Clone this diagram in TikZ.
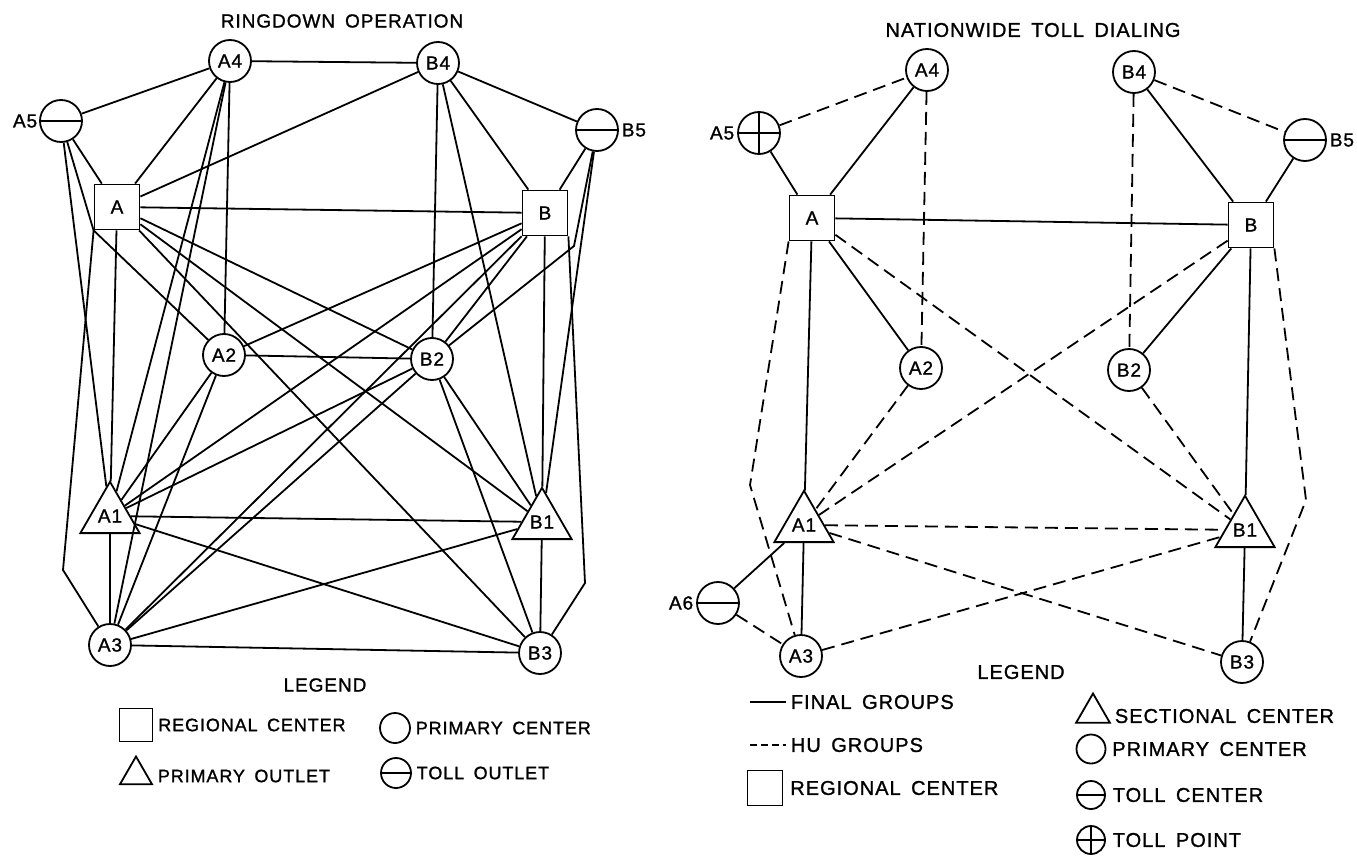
\documentclass[tikz,border=0pt]{standalone}
\usepackage{fontspec}
\setmainfont{Liberation Sans}[LetterSpace=5,WordSpace=1.6,FakeBold=1.2]
\usetikzlibrary{positioning}
\usetikzlibrary{shapes}

\begin{document}
\begin{tikzpicture}[x=1pt,y=-1pt,line width=1.8pt,font=\fontsize{19}{21}\selectfont,
  primary node/.style={circle,draw,inner sep=0pt,minimum size=42pt},
  regional node/.style={rectangle,draw,inner sep=0pt,minimum size=45pt},
  outlet node/.style={regular polygon,regular polygon sides=3,draw,inner sep=0pt,minimum size=54pt},
  toll node/.style={primary node,path picture={\draw (path picture bounding box.west) -- (path picture bounding box.east);}},
  point node/.style={primary node,path picture={\draw (path picture bounding box.west) -- (path picture bounding box.east) (path picture bounding box.north) -- (path picture bounding box.south);}},
  hu line/.style={dash pattern=on 13pt off 7pt},
  legend text/.style={anchor=west,inner sep=1pt}]
  \useasboundingbox (0,0) rectangle (1357,856);

  \node (ttl) at (342,21) {RINGDOWN OPERATION};
  \node[primary node] (a4) at (230,61) {A4};
  \node[primary node] (b4) at (438,63) {B4};
  \node[toll node,label={[inner sep=1pt]left:A5}] (a5) at (61,121) {};
  \node[toll node,label={[inner sep=2pt]right:B5}] (b5) at (597,130) {};
  \node[regional node] (a) at (117,207) {A};
  \node[regional node] (b) at (545,213) {B};
  \node[primary node] (a2) at (224,355) {A2};
  \node[primary node] (b2) at (432,359) {B2};
  \node[outlet node] (a1) at (110,516) {A1};
  \node[outlet node] (b1) at (542,522) {B1};
  \node[primary node] (a3) at (110,645) {A3};
  \node[primary node] (b3) at (540,653) {B3};
  \coordinate (ka3) at (63,570);
  \coordinate (kb5) at (574,246);
  \coordinate (kb3) at (585,583);

  \path (a4) edge (b4) edge (a5) edge (a) edge (a2) edge (a1) edge (a3)
        (b4) edge (a) edge (b2) edge (b1) edge (b) edge (b5)
        (a5) edge (a) edge (a1)
        (b5) edge (b) edge (b1)
        (a) edge (b) edge (a1) edge (b2) edge (b1) edge (b3)
        (b) edge (a2) edge (a1) edge (a3) edge (b2) edge (b1)
        (a2) edge (b2) edge (a1) edge (a3)
        (b2) edge (a1) edge (a3) edge (b1) edge (b3)
        (a1) edge (b1) edge (b3) edge (a3)
        (a3) edge (b1) edge (b3)
        (b1) edge (b3);
  \draw (a5) -- (a.south west) -- (a2);
  \draw (a.south west) -- (ka3) -- (a3);
  \draw (b5) -- (kb5) -- (b2);
  \draw (b.south east) -- (kb3) -- (b3);

  \node (lgl) at (325,685) {LEGEND};
  \begin{scope}[font=\fontsize{18}{20}\selectfont]
    \node[regional node,minimum size=33pt] (lsq) at (136,725) {};
    \node[legend text,right=3pt of lsq] (lsqt) {REGIONAL CENTER};
    \node[primary node,minimum size=30pt] (lci) at (395,728) {};
    \node[legend text,right=3pt of lci] (lcit) {PRIMARY CENTER};
    \node[outlet node,minimum size=37pt] (ltr) at (136,775) {};
    \node[legend text] (ltrt) at (156,776) {PRIMARY OUTLET};
    \node[toll node,minimum size=30pt] (lto) at (396,773) {};
    \node[legend text,right=3pt of lto] (ltot) {TOLL OUTLET};
  \end{scope}

  \node (ttr) at (1033,30) {\fontsize{20}{22}\selectfont NATIONWIDE TOLL DIALING};
  \node[primary node] (ra4) at (927,70) {A4};
  \node[primary node] (rb4) at (1134,72) {B4};
  \node[point node,label={[inner sep=2pt]left:A5}] (ra5) at (759,133) {};
  \node[toll node,label={[inner sep=2pt]right:B5}] (rb5) at (1305,140) {};
  \node[regional node] (ra) at (812,218) {A};
  \node[regional node] (rb) at (1251,225) {B};
  \node[primary node] (ra2) at (921,368) {A2};
  \node[primary node] (rb2) at (1129,370) {B2};
  \node[outlet node] (ra1) at (804,525) {A1};
  \node[outlet node] (rb1) at (1245,530) {B1};
  \node[toll node,label={[inner sep=2pt]left:A6}] (ra6) at (718,603) {};
  \node[primary node] (ra3) at (801,656) {A3};
  \node[primary node] (rb3) at (1242,662) {B3};
  \coordinate (kra3) at (750,485);
  \coordinate (krb3) at (1306,500);

  \path (ra4) edge (ra) (ra5) edge (ra)
        (ra) edge (rb) edge (ra2) edge (ra1)
        (rb4) edge (rb) (rb5) edge (rb)
        (rb) edge (rb2) edge (rb1)
        (ra1) edge (ra3) (rb1) edge (rb3) (ra6) edge (ra1);
  \begin{scope}[hu line]
    \path (ra5) edge (ra4) (rb4) edge (rb5)
          (ra4) edge (ra2) (rb4) edge (rb2)
          (ra) edge (rb1) (rb) edge (ra1)
          (ra2) edge (ra1) (rb2) edge (rb1)
          (ra1) edge (rb1) edge (rb3)
          (ra3) edge (rb1) (ra6) edge (ra3);
    \draw (ra.south west) -- (kra3) -- (ra3);
    \draw (rb.south east) -- (krb3) -- (rb3);
  \end{scope}

  \node (rgl) at (1021,672) {\fontsize{20}{22}\selectfont LEGEND};
  \begin{scope}[font=\fontsize{20}{22}\selectfont]
    \coordinate (fga) at (750,702);
    \coordinate (fgb) at (786,702);
    \draw (fga) -- (fgb);
    \node[legend text,right=3pt of fgb] (fgt) {FINAL GROUPS};
    \coordinate (hua) at (750,745);
    \coordinate (hub) at (786,745);
    \draw[dash pattern=on 7pt off 4pt] (hua) -- (hub);
    \node[legend text,right=3pt of hub] (hut) {HU GROUPS};
    \node[regional node,minimum size=35pt] (rsq) at (765,788) {};
    \node[legend text,right=5pt of rsq] (rsqt) {REGIONAL CENTER};
    \node[outlet node,minimum size=39pt] (rtr) at (1093,713) {};
    \node[legend text] (rtrt) at (1113,716) {SECTIONAL CENTER};
    \node[primary node,minimum size=29pt] (rci) at (1091,749) {};
    \node[legend text,right=4pt of rci] (rcit) {PRIMARY CENTER};
    \node[toll node,minimum size=28pt] (rtc) at (1091,795) {};
    \node[legend text,right=5pt of rtc] (rtct) {TOLL CENTER};
    \node[point node,minimum size=28pt] (rtp) at (1091,840) {};
    \node[legend text,right=5pt of rtp] (rtpt) {TOLL POINT};
  \end{scope}
\end{tikzpicture}
\end{document}
